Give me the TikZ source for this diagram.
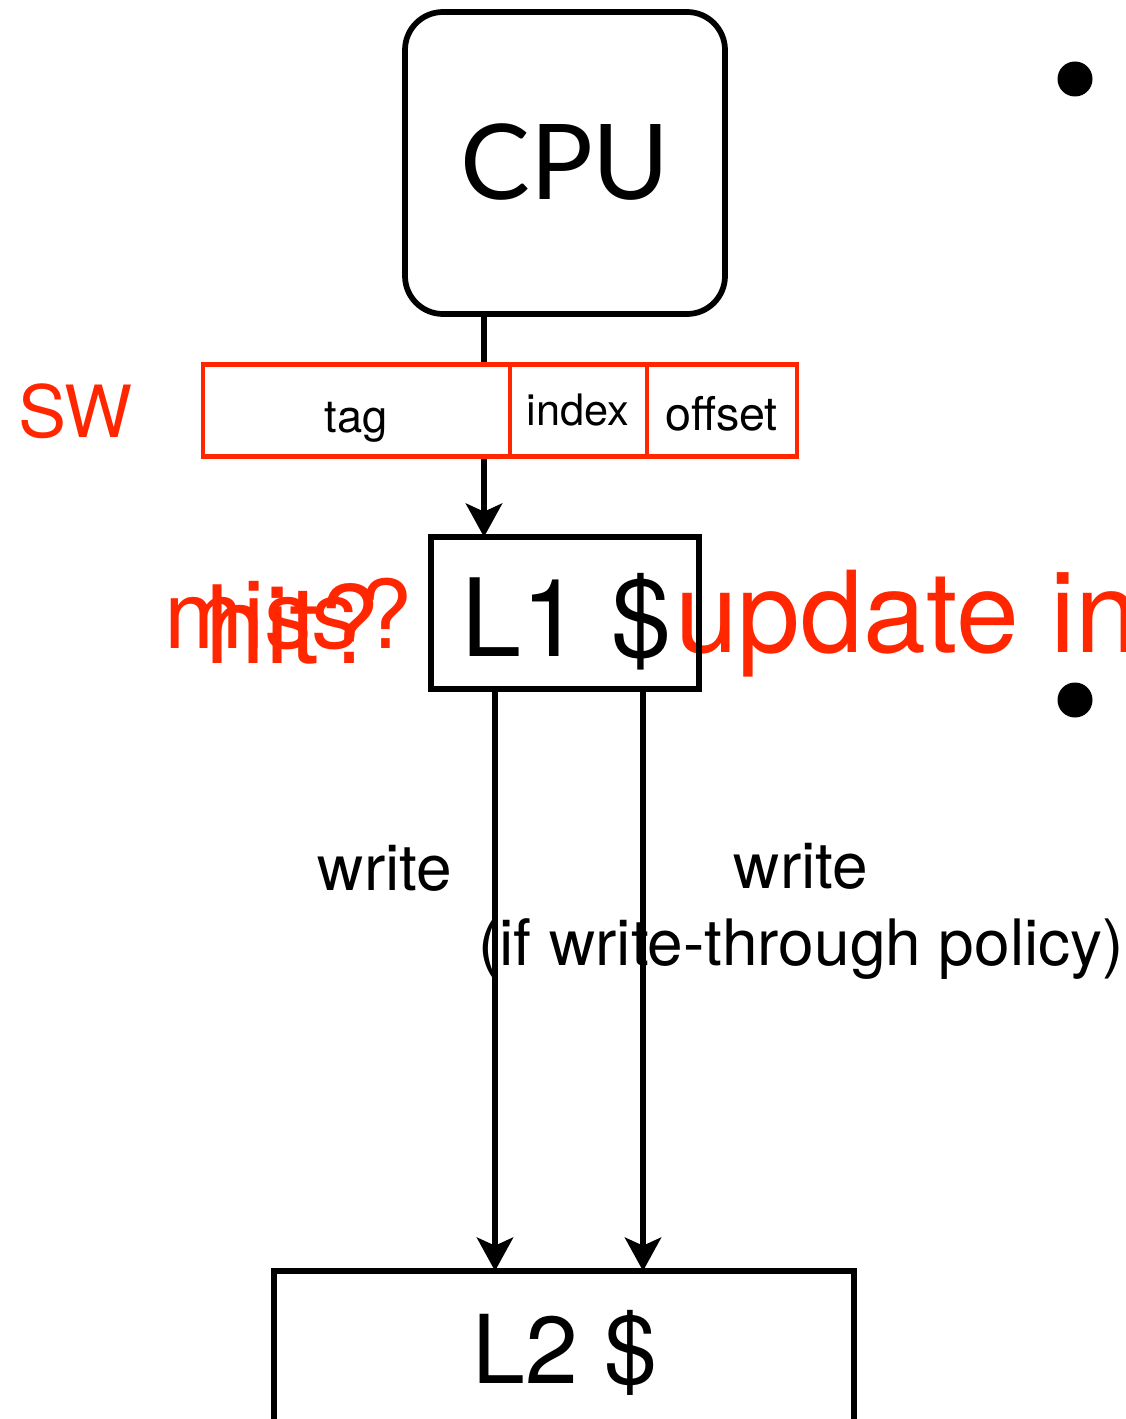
\documentclass[tikz,border=0pt]{standalone}
\usepackage{fontspec}
\setmainfont{TeX Gyre Heros}
\newfontfamily\cpufont{Lato}
\usetikzlibrary{arrows.meta}
\definecolor{kred}{RGB}{255,38,0}
\begin{document}
\begin{tikzpicture}[x=0.75pt,y=-0.75pt,
  txt/.style={inner sep=0pt, outer sep=0pt, anchor=base, font=\fontsize{#1}{#1}\selectfont},
  blackbox/.style={draw=black, line width=4.3pt, inner sep=0pt, outer sep=0pt},
  fieldbox/.style={draw=kred, fill=white, line width=3.3pt, inner sep=0pt, outer sep=0pt, minimum height=69pt},
  link/.style={line width=5pt, -{Stealth[length=25pt, width=27pt, inset=6pt]}},
  dot/.style={circle, fill=black, inner sep=0pt, minimum size=26.25pt}
]
% canvas
\fill[white] (0,0) rectangle (1126,1419);
\useasboundingbox (0,0) rectangle (1126,1419);
\clip (0,0) rectangle (1126,1419);

% free-standing labels
\node[txt=54, text=kred] (sw) at (75,437) {SW};
\node[txt=71.25, text=kred, anchor=base west] (miss) at (164,648) {miss?};
\node[txt=81, text=kred, anchor=base west] (hit) at (205,663) {hit?};
\node[txt=84.75, text=kred, anchor=base west] (update) at (675,652) {update in};
\node[txt=48] (wleft) at (385,890) {write};
\node[txt=48] (wright) at (801,888) {write};
\node[txt=48] (wpolicy) at (801,965) {(if write-through policy)};

% bullets
\node[dot] (b1) at (1075,79) {};
\node[dot] (b2) at (1075,700) {};

% cache hierarchy boxes
\node[blackbox, rounded corners=28.5pt, minimum width=240pt, minimum height=226.5pt] (cpu) at (565,163) {};
\node[blackbox, minimum width=201pt, minimum height=114pt] (l1) at (565,613) {};
\node[blackbox, minimum width=435pt, minimum height=126.75pt] (l2) at (564,1355.5) {};

% connector columns
\coordinate (xa) at (484,0);
\coordinate (xb) at (495,0);
\coordinate (xc) at (643,0);
\draw[link] (cpu.south -| xa) -- (l1.north -| xa);
\draw[link] (l1.south -| xb) -- (l2.north -| xb);
\draw[link] (l1.south -| xc) -- (l2.north -| xc);

% address fields
\node[fieldbox, minimum width=230.25pt] (tag) at (356.5,410.5) {};
\node[fieldbox, minimum width=102.75pt] (index) at (578.5,410.5) {};
\node[fieldbox, minimum width=112.5pt] (offset) at (722,410.5) {};

% box texts
\node[txt=78.5] (cputxt) at (565,200) {\cpufont CPU};
\node[txt=34] (tagtxt) at (356.5,432) {tag};
\node[txt=32.5] (idxtxt) at (578,425) {index};
\node[txt=35] (offtxt) at (721.5,430) {offset};
\node[txt=81] (l1txt) at (566.5,656) {L1 \$};
\node[txt=71.25] (l2txt) at (565,1383) {L2 \$};
\end{tikzpicture}
\end{document}
